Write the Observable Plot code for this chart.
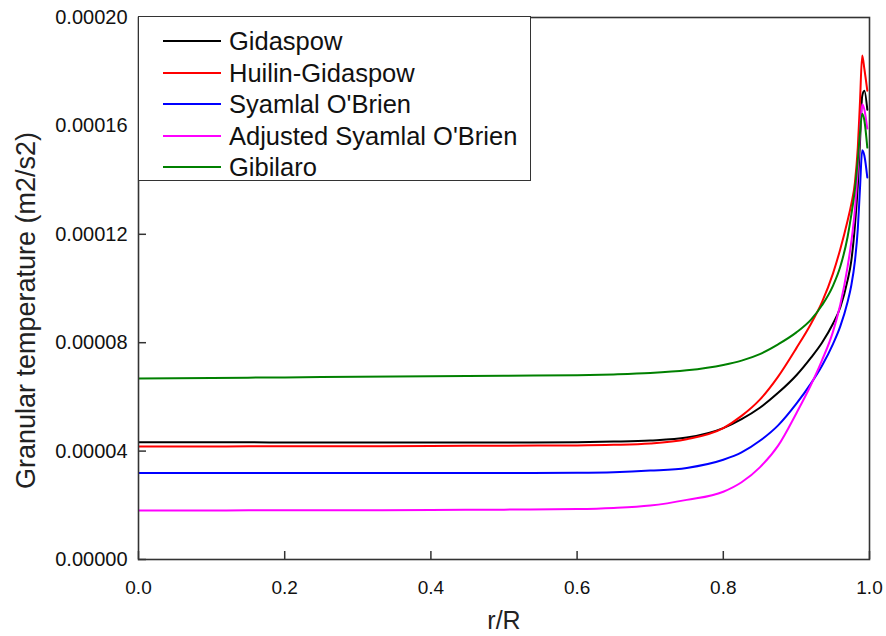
<!DOCTYPE html>
<html>
<head>
<meta charset="utf-8">
<script src="https://cdn.jsdelivr.net/npm/d3@7"></script>
<script src="https://cdn.jsdelivr.net/npm/@observablehq/plot@0.6"></script>
<style>
  html, body { margin: 0; padding: 0; background: #fff; }
  #wrap { position: relative; width: 886px; height: 636px; font-family: "Liberation Sans", Arial, sans-serif; }
  #legend { position: absolute; left: 138px; top: 16px; width: 393px; height: 165px; border: 1.5px solid #333; box-sizing: border-box; background: #fff; }
  .row { position: absolute; left: 0; height: 30px; }
  .swatch { position: absolute; left: 24px; width: 58px; height: 0; border-top: 2px solid; }
  .lab { position: absolute; left: 90px; font-size: 25.5px; color: #111; white-space: nowrap; line-height: 30px; }
</style>
</head>
<body>
<div id="wrap"><div id="chart"></div><div id="legend"></div></div>
<script>
// r/R positions (shared by all series)
const rR = [0, 0.1, 0.2, 0.3, 0.4, 0.5, 0.6, 0.65, 0.7, 0.75, 0.8, 0.825, 0.85, 0.875, 0.9, 0.92, 0.935, 0.95, 0.96, 0.97, 0.975, 0.98, 0.984, 0.987, 0.99, 0.993, 0.997];
// Granular temperature, in units of 1e-5 m2/s2
const gidaspow =        [4.33, 4.33, 4.32, 4.32, 4.32, 4.32, 4.33, 4.35, 4.39, 4.5, 4.85, 5.18, 5.6, 6.15, 6.8, 7.45, 8.0, 8.7, 9.3, 10.3, 11.0, 12.3, 13.8, 15.4, 17.1, 17.3, 16.6];
const huilinGidaspow =  [4.17, 4.17, 4.18, 4.18, 4.19, 4.2, 4.21, 4.23, 4.28, 4.44, 4.85, 5.3, 5.9, 6.75, 7.8, 8.7, 9.5, 10.55, 11.45, 12.5, 13.1, 13.9, 15.2, 16.9, 18.6, 18.1, 17.3];
const syamlalOBrien =   [3.19, 3.19, 3.19, 3.19, 3.19, 3.19, 3.2, 3.22, 3.28, 3.38, 3.68, 3.95, 4.38, 4.95, 5.75, 6.5, 7.15, 7.95, 8.6, 9.5, 10.1, 11.0, 12.2, 13.7, 15.1, 14.9, 14.1];
const adjustedSyamlal = [1.81, 1.81, 1.82, 1.82, 1.83, 1.84, 1.86, 1.9, 1.99, 2.2, 2.5, 2.85, 3.4, 4.2, 5.4, 6.45, 7.35, 8.4, 9.4, 10.8, 11.7, 12.9, 14.4, 15.7, 16.8, 16.6, 15.9];
const gibilaro =        [6.68, 6.7, 6.72, 6.74, 6.76, 6.78, 6.8, 6.83, 6.88, 6.98, 7.18, 7.34, 7.58, 7.94, 8.38, 8.85, 9.38, 10.1, 10.8, 11.9, 12.7, 13.65, 14.75, 15.75, 16.45, 16.2, 15.2];

const seriesNames = ["Gidaspow", "Huilin-Gidaspow", "Syamlal O'Brien", "Adjusted Syamlal O'Brien", "Gibilaro"];
const seriesValues = [gidaspow, huilinGidaspow, syamlalOBrien, adjustedSyamlal, gibilaro];
const seriesColors = ["#000000", "#ff0000", "#0000ff", "#ff00ff", "#008000"];

const xTicks = [0, 0.2, 0.4, 0.6, 0.8, 1.0];
const yTicks = [0, 0.00004, 0.00008, 0.00012, 0.00016, 0.0002];

const xTitle = "r/R";
const yTitle = "Granular temperature (m2/s2)";

const data = [];
seriesNames.forEach((name, i) => {
  rR.forEach((r, j) => data.push({series: name, r, T: seriesValues[i][j] * 1e-5}));
});

const W = 886, H = 636, mL = 138, mR = 17, mT = 17, mB = 77;
const plotW = W - mL - mR, plotH = H - mT - mB;
const tickLen = 8;

const chart = Plot.plot({
  width: W, height: H,
  marginLeft: mL, marginRight: mR, marginTop: mT, marginBottom: mB,
  style: {fontFamily: "'Liberation Sans', Arial, sans-serif", color: "#111", background: "#fff"},
  x: {domain: [0, 1]},
  y: {domain: [0, 0.0002]},
  color: {domain: seriesNames, range: seriesColors},
  marks: [
    Plot.line(data, {x: "r", y: "T", z: "series", stroke: "series", strokeWidth: 2, curve: "monotone-x", clip: true}),
    Plot.frame({stroke: "#333", strokeWidth: 1.6}),
    Plot.tickX(xTicks, {x: d => d, insetTop: plotH - tickLen, stroke: "#333", strokeWidth: 1.5}),
    Plot.tickY(yTicks, {y: d => d, insetRight: plotW - tickLen, stroke: "#333", strokeWidth: 1.5}),
    Plot.axisX({ticks: xTicks, tickSize: 0, tickPadding: 21, tickFormat: d3.format(".1f"), fontSize: 19, label: null}),
    Plot.axisY({ticks: yTicks, tickSize: 0, tickPadding: 11, tickFormat: d3.format(".5f"), fontSize: 20, label: null}),
    Plot.text([xTitle], {frameAnchor: "bottom", dy: 69, fontSize: 25, fill: "#222"}),
    Plot.text([yTitle], {frameAnchor: "left", textAnchor: "middle", dx: -112, dy: 22, rotate: -90, fontSize: 27, fill: "#222"})
  ]
});
document.getElementById("chart").appendChild(chart);

const legend = document.getElementById("legend");
const rowTops = [9, 41, 72, 104, 135];
seriesNames.forEach((name, i) => {
  const row = document.createElement("div");
  row.className = "row";
  row.style.top = rowTops[i] + "px";
  row.innerHTML = `<div class="swatch" style="border-color:${seriesColors[i]};top:14px"></div><div class="lab">${name}</div>`;
  legend.appendChild(row);
});
</script>
</body>
</html>
